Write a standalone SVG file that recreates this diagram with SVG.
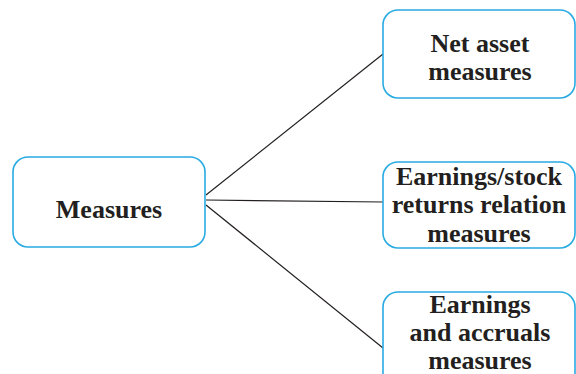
<svg xmlns="http://www.w3.org/2000/svg" width="576" height="374" viewBox="0 0 576 374">
<style>
.box{fill:#fff;stroke:#29abe2;stroke-width:1.6}
.t{font-family:"Liberation Serif","Times New Roman",serif;font-weight:bold;font-size:26px;fill:#231f20;text-anchor:middle}
.c{stroke:#231f20;stroke-width:1.2;fill:none}
</style>
<rect width="576" height="374" fill="#fff"/>
<g id="connectors">
<line class="c" x1="206" y1="195" x2="383" y2="54"/>
<line class="c" x1="206" y1="200" x2="383" y2="202"/>
<line class="c" x1="206" y1="205" x2="383" y2="348"/>
</g>
<g id="measures">
<rect class="box" x="13" y="157" width="192" height="90" rx="15"/>
<text class="t" x="109" y="218">Measures</text>
</g>
<g id="net-asset">
<rect class="box" x="383" y="10" width="192" height="88" rx="15"/>
<text class="t" x="480" y="52">Net asset</text>
<text class="t" x="480" y="80">measures</text>
</g>
<g id="earnings-stock">
<rect class="box" x="383" y="162" width="192" height="86" rx="15"/>
<text class="t" x="479" y="185">Earnings/stock</text>
<text class="t" x="479" y="213">returns relation</text>
<text class="t" x="479" y="242">measures</text>
</g>
<g id="earnings-accruals">
<rect class="box" x="383" y="292" width="192" height="100" rx="15"/>
<text class="t" x="480" y="313">Earnings</text>
<text class="t" x="480" y="341">and accruals</text>
<text class="t" x="480" y="369">measures</text>
</g>
</svg>
